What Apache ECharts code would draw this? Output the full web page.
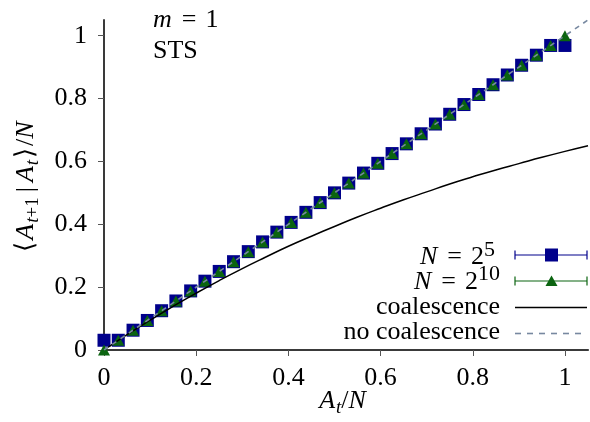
<!DOCTYPE html>
<html>
<head>
<meta charset="utf-8">
<script src="https://cdn.jsdelivr.net/npm/echarts@6/dist/echarts.min.js"></script>
<style>
html,body{margin:0;padding:0;background:#fff;}
#chart{width:590px;height:422px;}
</style>
</head>
<body>
<div id="chart"></div>
<script>
// ---- data ----
const xPoints = [0, 0.031, 0.063, 0.094, 0.125, 0.156, 0.188, 0.219, 0.25, 0.281, 0.313, 0.344, 0.375, 0.406, 0.438, 0.469, 0.5, 0.531, 0.563, 0.594, 0.625, 0.656, 0.688, 0.719, 0.75, 0.781, 0.813, 0.844, 0.875, 0.906, 0.938, 0.969, 1.0];
const yN5 = [0.031, 0.031, 0.063, 0.094, 0.125, 0.156, 0.188, 0.219, 0.25, 0.281, 0.313, 0.344, 0.375, 0.406, 0.438, 0.469, 0.5, 0.531, 0.563, 0.594, 0.625, 0.656, 0.688, 0.719, 0.75, 0.781, 0.813, 0.844, 0.875, 0.906, 0.938, 0.969, 0.969];
const yN10 = [0, 0.031, 0.063, 0.094, 0.125, 0.156, 0.188, 0.219, 0.25, 0.281, 0.313, 0.344, 0.375, 0.406, 0.438, 0.469, 0.5, 0.531, 0.563, 0.594, 0.625, 0.656, 0.688, 0.719, 0.75, 0.781, 0.813, 0.844, 0.875, 0.906, 0.938, 0.969, 1.0];
const xCoal = [0, 0.05, 0.1, 0.15, 0.2, 0.25, 0.3, 0.35, 0.4, 0.45, 0.5, 0.55, 0.6, 0.65, 0.7, 0.75, 0.8, 0.85, 0.9, 0.95, 1.0, 1.05];
const yCoal = [0, 0.049, 0.095, 0.139, 0.181, 0.221, 0.259, 0.295, 0.330, 0.362, 0.393, 0.423, 0.451, 0.478, 0.503, 0.528, 0.551, 0.573, 0.593, 0.613, 0.632, 0.650];
const xNoCoal = [0, 1.05];
const yNoCoal = [0, 1.05];
const xTicks = [0, 0.2, 0.4, 0.6, 0.8, 1];
const yTicks = [0, 0.2, 0.4, 0.6, 0.8, 1];

// ---- styles ----
const FONT = 'Liberation Serif';
const FS = 26;
const SUB = 19;
const BLUE = '#00008b';
const GREEN = '#0b6410';
const DASH = '#7788a0';
const AXIS = '#3a3a3a';

function pairs(xs, ys){ return xs.map((x,i)=>[x, ys[i]]); }
function rich(){
  const base = {fontFamily:FONT, fontSize:FS, color:'#000', verticalAlign:'middle'};
  return {
    n: Object.assign({}, base),
    i: Object.assign({}, base, {fontStyle:'italic', padding:[0,1,0,0]}),
    eq: Object.assign({}, base, {padding:[0,9,0,9]}),
    bar: Object.assign({}, base, {padding:[0,5,0,5]}),
    br: Object.assign({}, base, {padding:[0,2,0,2]}),
    sub: Object.assign({}, base, {fontSize:SUB, fontStyle:'italic', padding:[14,0,0,0]}),
    subn: Object.assign({}, base, {fontSize:SUB, padding:[14,0,0,0]}),
    sup: Object.assign({}, base, {fontSize:22, padding:[0,0,17,1]})
  };
}
function txt(x, y, text, align, extra){
  return Object.assign({type:'text', x:x, y:y,
    style:{text:text, rich:rich(), fontFamily:FONT, fontSize:FS, fill:'#000', align:align, verticalAlign:'middle'}}, extra||{});
}

const chart = echarts.init(document.getElementById('chart'), null, {renderer:'canvas'});
const option = {
  animation:false,
  backgroundColor:'#fff',
  textStyle:{fontFamily:FONT},
  grid:{left:104, right:2, top:20, bottom:72, containLabel:false},
  xAxis:{
    type:'value', min:0, max:1.05,
    splitLine:{show:false},
    axisLine:{show:true, onZero:false, lineStyle:{color:AXIS, width:2.2}},
    axisTick:{show:true, customValues:xTicks, length:6, inside:false, lineStyle:{color:'#555', width:1}},
    axisLabel:{customValues:xTicks, margin:15, fontFamily:FONT, fontSize:FS, color:'#000',
      formatter:v=>String(+(+v).toFixed(2))}
  },
  yAxis:{
    type:'value', min:0, max:1.05,
    splitLine:{show:false},
    axisLine:{show:true, onZero:false, lineStyle:{color:AXIS, width:2}},
    axisTick:{show:true, customValues:yTicks, length:6, inside:false, lineStyle:{color:'#555', width:1}},
    axisLabel:{customValues:yTicks, margin:17, fontFamily:FONT, fontSize:FS, color:'#000',
      formatter:v=>String(+(+v).toFixed(2))}
  },
  series:[
    {name:'N=2^5', type:'scatter', data:pairs(xPoints,yN5), symbol:'rect', symbolSize:13,
      itemStyle:{color:BLUE, opacity:1}, clip:false, z:2},
    {name:'N=2^10', type:'scatter', data:pairs(xPoints,yN10), symbol:'triangle', symbolSize:[12,11],
      itemStyle:{color:GREEN, opacity:1}, clip:false, z:3},
    {name:'coalescence', type:'line', data:pairs(xCoal,yCoal), showSymbol:false, symbol:'none',
      smooth:true, lineStyle:{color:'#000', width:1.5}, z:4},
    {name:'no coalescence', type:'line', data:pairs(xNoCoal,yNoCoal), showSymbol:false, symbol:'none',
      lineStyle:{color:DASH, width:1.6, type:[5,5]}, z:5}
  ],
  graphic:[
    txt(153, 20, '{i|m}{eq|=}{n|1}', 'left'),
    txt(153, 51, '{n|STS}', 'left'),
    txt(343, 401, '{i|A}{sub|t}{n|/}{i|N}', 'center'),
    txt(26, 187, '{br|⟨}{i|A}{sub|t}{subn|+1}{bar||}{i|A}{sub|t}{br|⟩}{n|/}{i|N}', 'center', {rotation:Math.PI/2}),
    txt(484, 257, '{i|N}{eq|=}{n|2}', 'right'),
    txt(484, 250, '{n|5}', 'left', {style:{text:'5', fontFamily:FONT, fontSize:22, fill:'#000', align:'left', verticalAlign:'middle'}}),
    txt(478, 282, '{i|N}{eq|=}{n|2}', 'right'),
    txt(478, 274, '10', 'left', {style:{text:'10', fontFamily:FONT, fontSize:22, fill:'#000', align:'left', verticalAlign:'middle'}}),
    txt(500, 307, '{n|coalescence}', 'right'),
    txt(500, 332, '{n|no coalescence}', 'right'),
    {type:'line', shape:{x1:515, y1:255, x2:587, y2:255}, style:{stroke:BLUE, lineWidth:1.2}},
    {type:'line', shape:{x1:515, y1:250.5, x2:515, y2:259.5}, style:{stroke:BLUE, lineWidth:1.2}},
    {type:'line', shape:{x1:587, y1:250.5, x2:587, y2:259.5}, style:{stroke:BLUE, lineWidth:1.2}},
    {type:'rect', shape:{x:545, y:248.5, width:13, height:13}, style:{fill:BLUE}},
    {type:'line', shape:{x1:515, y1:281, x2:587, y2:281}, style:{stroke:GREEN, lineWidth:1.2}},
    {type:'line', shape:{x1:515, y1:276.5, x2:515, y2:285.5}, style:{stroke:GREEN, lineWidth:1.2}},
    {type:'line', shape:{x1:587, y1:276.5, x2:587, y2:285.5}, style:{stroke:GREEN, lineWidth:1.2}},
    {type:'polygon', shape:{points:[[551.5,275.5],[545.5,286],[557.5,286]]}, style:{fill:GREEN}},
    {type:'line', shape:{x1:515, y1:307.5, x2:587, y2:307.5}, style:{stroke:'#000', lineWidth:1.5}},
    {type:'line', shape:{x1:515, y1:333.5, x2:587, y2:333.5}, style:{stroke:DASH, lineWidth:1.6, lineDash:[6,6]}}
  ]
};
chart.setOption(option);
</script>
</body>
</html>
